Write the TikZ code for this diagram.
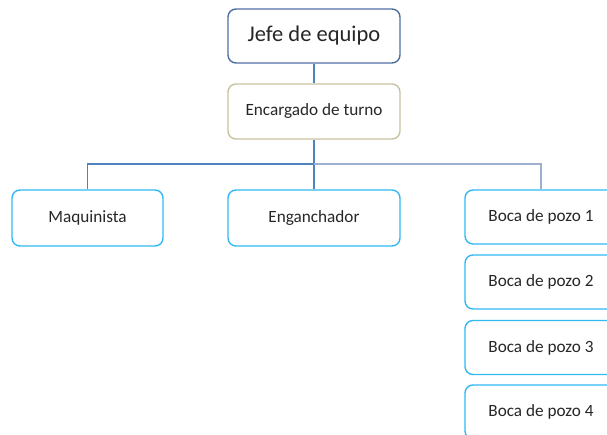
\documentclass[tikz,border=0pt]{standalone}
\usepackage{fontspec}
\setmainfont{Carlito}
\usepackage{xcolor}
\definecolor{bordojefe}{HTML}{4F6FA3}
\definecolor{bordoturno}{HTML}{C8C29E}
\definecolor{bordocielo}{HTML}{33B9F2}
\definecolor{linea}{HTML}{5082BE}
\definecolor{linealuce}{HTML}{9DB0D2}
\definecolor{testo}{HTML}{262626}
\tikzset{
    casella/.style = {draw, rounded corners = 8pt, line width = 1.4pt,
        inner sep = 0pt, text = testo, font = \fontsize{17.2}{20}\selectfont},
    ramo/.style = {line width = 1.2pt, draw = linea}
}

\begin{document}
\begin{tikzpicture}[x = 1pt, y = -1pt]
    % Parametri
    \pgfmathsetmacro{\largh}{172}
    \pgfmathsetmacro{\alt}{55}
    \pgfmathsetmacro{\yfigli}{218}
    \pgfmathsetmacro{\ybarra}{164}
    \useasboundingbox (0,0) rectangle (607,435);
    \clip (0,0) rectangle (607,435);
    % Caselle
    \node[casella, draw = bordojefe, minimum width = \largh pt, minimum height = 54pt,
        font = \fontsize{22.5}{26}\selectfont] (jefe) at (314,36) {Jefe de equipo};
    \node[casella, draw = bordoturno, minimum width = \largh pt, minimum height = \alt pt] (turno) at (314,111.5) {Encargado de turno};
    \node[casella, draw = bordocielo, minimum width = 151pt, minimum height = 56pt] (maq) at (87.5,\yfigli) {Maquinista};
    \node[casella, draw = bordocielo, minimum width = \largh pt, minimum height = 56pt] (eng) at (314,\yfigli) {Enganchador};
    \foreach \i/\y in {1/217, 2/282, 3/347.5, 4/412}
        \node[casella, draw = bordocielo, minimum width = 152pt, minimum height = 54pt] (boca\i) at (541,\y) {Boca de pozo \i};
    % Rami
    \coordinate (barra) at (314,\ybarra);
    \draw[ramo] (jefe.south) -- (turno.north);
    \draw[ramo] (turno.south) -- (eng.north);
    \draw[ramo] (maq.north) |- (barra);
    \draw[ramo, draw = linealuce] (barra) -| (boca1.north);
\end{tikzpicture}
\end{document}
